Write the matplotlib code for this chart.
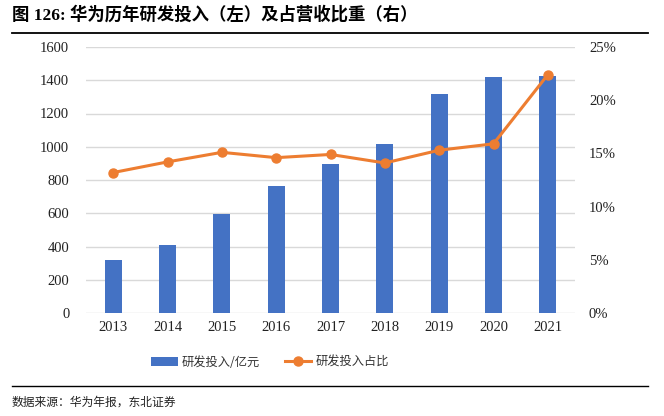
import numpy as np
import matplotlib.pyplot as plt
from matplotlib.lines import Line2D

plt.rcParams['font.family'] = ['Liberation Serif', 'Noto Sans CJK SC', 'DejaVu Sans']

# data
years = ['2013', '2014', '2015', '2016', '2017', '2018', '2019', '2020', '2021']
rd_spend = [316, 408, 596, 764, 897, 1015, 1317, 1419, 1427]   # 亿元
rd_ratio = [13.2, 14.2, 15.1, 14.6, 14.9, 14.1, 15.3, 15.9, 22.4]  # %

blue = '#4472C4'
orange = '#ED7D31'
cjk = ['Noto Sans CJK SC', 'DejaVu Sans']

fig = plt.figure(figsize=(6.64, 4.16), dpi=100)
ax = fig.add_axes([86/664, 1-313/416, (575-86)/664, (313-47)/416])
ax2 = ax.twinx()

x = np.arange(len(years))
ax.bar(x, rd_spend, width=0.31, color=blue, zorder=2, label='研发投入/亿元')
ax2.plot(x, rd_ratio, color=orange, lw=2.2, marker='o', ms=6.5, zorder=3,
         label='研发投入占比')

ax.set_xlim(-0.5, 8.5)
ax.set_ylim(0, 1600)
ax.set_yticks(np.arange(0, 1601, 200))
ax2.set_ylim(0, 25)
ax2.set_yticks(np.arange(0, 26, 5))
ax2.set_yticklabels([f'{v}%' for v in range(0, 26, 5)])
ax.set_xticks(x)
ax.set_xticklabels(years)

ax.grid(axis='y', color='#d9d9d9', lw=1, zorder=0)
ax.set_axisbelow(True)
for a in (ax, ax2):
    for s in a.spines.values():
        s.set_visible(False)
    a.tick_params(length=0, labelsize=10.5, colors='#222222')
ax.tick_params(axis='y', pad=12)
ax2.tick_params(axis='y', pad=10)
ax.tick_params(axis='x', pad=6)

# legend
h1, l1 = ax.get_legend_handles_labels()
h2, l2 = ax2.get_legend_handles_labels()
fig.legend(h1 + h2, l1 + l2, loc='center', bbox_to_anchor=(270/664, 1-362/416),
           ncol=2, frameon=False, prop={'family': cjk, 'size': 8.8},
           handlelength=2.2, columnspacing=2.0, handletextpad=0.3,
           labelcolor='#333333')

# title, rules and source
fig.text(12/664, 1-15/416, '图 126: 华为历年研发投入（左）及占营收比重（右）',
         fontsize=12.5, fontweight='bold',
         family=['Liberation Serif', 'Noto Sans CJK SC'], va='center', ha='left')
fig.add_artist(Line2D([12/664, 648/664], [1-33/416, 1-33/416], color='black', lw=1.3))
fig.add_artist(Line2D([12/664, 648/664], [1-386/416, 1-386/416], color='black', lw=1.0))
fig.text(12/664, 1-402/416, '数据来源：华为年报，东北证券',
         fontsize=8.5, family=cjk, va='center', ha='left', color='#222222')

fig.savefig('out.png', dpi=100)
